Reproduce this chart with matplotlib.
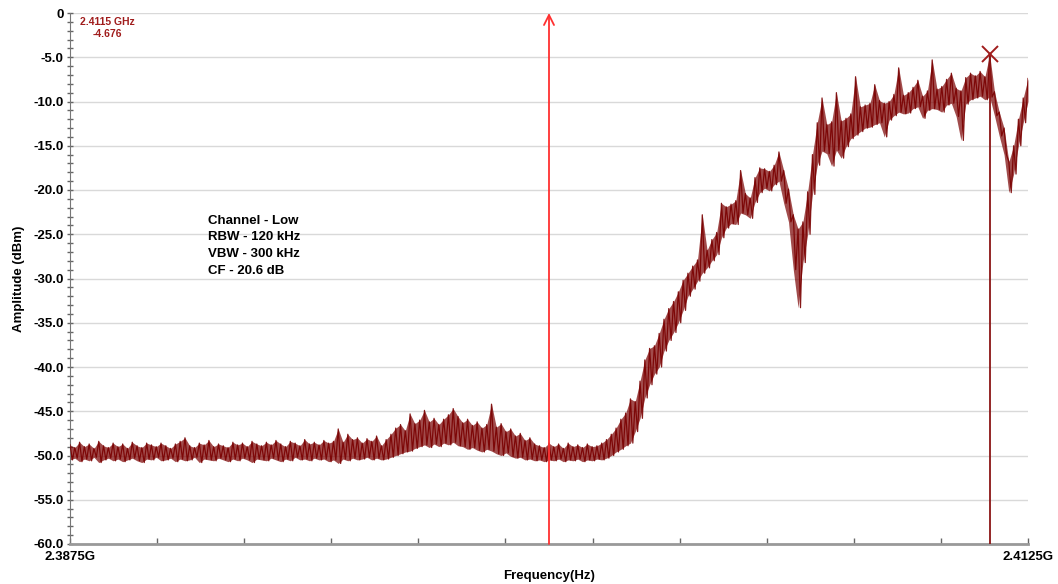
import numpy as np
import matplotlib
matplotlib.use("Agg")
import matplotlib.pyplot as plt
from matplotlib.ticker import MultipleLocator, FixedLocator

plt.rcParams["font.family"] = ["Liberation Sans", "DejaVu Sans"]
plt.rcParams["font.weight"] = "bold"

# barrido: 2.3875 - 2.4125 GHz, un bin cada 0.125 MHz
f_inicio = 2.3875
f_fin = 2.4125
paso = 0.000125

# envolvente superior (dBm) por bin
env_max = [
    -48.8, -49.1, -48.5, -49.0, -48.7, -49.2, -48.4, -48.9, -49.1, -48.6,
    -49.0, -48.7, -49.2, -48.5, -48.9, -49.1, -48.6, -48.8, -49.0, -48.6,
    -48.9, -49.2, -48.7, -48.4, -48.0, -48.9, -49.1, -48.6, -48.8, -48.3,
    -49.0, -48.7, -48.9, -49.1, -48.5, -48.8, -48.6, -49.0, -48.4, -48.7,
    -48.9, -48.5, -48.8, -48.3, -48.7, -49.0, -48.4, -48.6, -48.9, -48.2,
    -48.7, -48.5, -48.8, -48.3, -48.6, -48.4, -47.0, -48.5, -47.6, -48.2,
    -48.0, -48.6, -48.1, -48.4, -47.8, -48.9, -48.2, -47.6, -46.9, -46.5,
    -47.2, -45.3, -46.4, -46.0, -44.9, -46.2, -45.8, -46.5, -45.9, -45.4,
    -44.7, -45.6, -46.3, -45.9, -46.6, -46.2, -46.9, -46.5, -44.2, -46.8,
    -46.4, -47.3, -47.0, -47.8, -47.5, -48.3, -48.0, -48.7, -48.9, -49.1,
    -48.6, -49.0, -48.7, -49.2, -48.6, -49.0, -48.8, -49.1, -48.7, -49.0,
    -48.9, -48.6, -48.2, -47.6, -46.9, -45.9, -45.2, -43.6, -43.9, -41.6,
    -39.2, -37.9, -37.6, -36.2, -34.6, -33.4, -32.6, -31.5, -30.2, -29.4,
    -28.6, -27.9, -22.8, -26.8, -25.6, -24.8, -21.5, -21.9, -21.6, -21.2,
    -17.8, -20.4, -20.9, -18.6, -17.5, -17.6, -17.9, -17.2, -15.7, -17.8,
    -19.9, -22.8, -24.4, -23.6, -20.2, -16.0, -12.4, -9.6, -12.6, -12.3,
    -9.0, -12.2, -11.9, -11.4, -7.2, -10.6, -10.4, -10.2, -8.1, -9.9,
    -10.2, -10.0, -9.2, -6.2, -9.3, -9.0, -8.4, -7.6, -9.4, -8.8,
    -5.3, -8.6, -8.3, -7.5, -6.8, -8.5, -8.8, -7.3, -6.8, -7.1,
    -6.6, -7.2, -4.676, -8.9, -11.2, -13.0, -16.8, -15.0, -12.0, -9.6,
    -7.4,
]

# envolvente inferior (dBm) por bin
env_min = [
    -50.5, -50.3, -50.7, -50.4, -50.6, -50.2, -50.8, -50.5, -50.3, -50.6,
    -50.4, -50.7, -50.5, -50.3, -50.6, -50.8, -50.4, -50.5, -50.2, -50.6,
    -50.5, -50.3, -50.7, -50.4, -50.6, -50.5, -50.2, -50.8, -50.4, -50.5,
    -50.6, -50.3, -50.5, -50.7, -50.4, -50.6, -50.3, -50.5, -50.8, -50.4,
    -50.5, -50.6, -50.3, -50.5, -50.7, -50.4, -50.6, -50.2, -50.5, -50.4,
    -50.6, -50.3, -50.5, -50.4, -50.7, -50.5, -50.9, -50.4, -50.6, -50.3,
    -50.5, -50.4, -50.2, -50.5, -50.3, -50.5, -50.4, -50.2, -50.0, -49.8,
    -49.6, -49.5, -49.2, -49.0, -48.8, -49.1, -48.7, -49.0, -48.6, -48.8,
    -48.5, -48.9, -49.0, -49.3, -49.1, -49.4, -49.6, -49.3, -49.5, -49.8,
    -50.0, -49.7, -50.1, -50.3, -50.2, -50.5, -50.4, -50.6, -50.5, -50.7,
    -50.5, -50.6, -50.4, -50.7, -50.5, -50.6, -50.4, -50.7, -50.5, -50.6,
    -50.4, -50.5, -50.3, -50.0, -49.6, -49.3, -48.9, -48.6, -47.3, -45.8,
    -43.5, -42.0, -40.8, -40.0, -38.2, -37.0, -36.1, -35.0, -33.6, -32.0,
    -31.2, -30.3, -29.4, -28.8, -28.0, -27.3, -25.4, -24.3, -23.8, -23.9,
    -22.6, -22.8, -23.2, -21.4, -20.3, -19.8, -20.1, -19.4, -19.0, -21.5,
    -23.6, -29.0, -33.3, -28.2, -25.0, -20.5, -17.2, -15.6, -15.9, -17.3,
    -15.5, -16.4, -15.1, -14.2, -13.8, -13.4, -13.0, -12.9, -12.6, -12.4,
    -14.0, -12.1, -11.6, -11.2, -11.4, -11.3, -10.8, -10.6, -11.9, -11.0,
    -10.8, -10.9, -11.2, -10.4, -10.2, -11.7, -14.4, -10.3, -9.8, -9.6,
    -9.4, -9.8, -9.5, -11.6, -13.9, -16.0, -20.3, -18.2, -15.0, -12.4,
    -10.0,
]

# marcador de pico
pico_f = 2.4115
pico_db = -4.676
linea_limite = 2.4000

textos = ["Channel - Low", "RBW - 120 kHz", "VBW - 300 kHz", "CF - 20.6 dB"]

# traza tipo detector max/min: alterna entre envolvente superior e inferior
n = len(env_max)
f_bins = f_inicio + paso * np.arange(n)
xs, ys = [], []
for i in range(n):
    xs.append(f_bins[i])
    ys.append(env_max[i])
    if i < n - 1:
        xs.append(f_bins[i] + paso / 2)
        ys.append(env_min[i])

fig = plt.figure(figsize=(10.58, 5.84), dpi=100)
ax = fig.add_axes([70 / 1058, 40 / 584, 958 / 1058, 531 / 584])

# banda entre envolventes y traza encima
ax.fill_between(f_bins, env_min, env_max, color="#7a0000", alpha=0.7,
                linewidth=0, zorder=2)
ax.plot(xs, ys, color="#7a0000", linewidth=0.9, alpha=0.9, zorder=3)

# línea del límite de banda con flecha arriba
ax.annotate("", xy=(linea_limite, 0), xytext=(linea_limite, -60),
            arrowprops=dict(arrowstyle="->", color="#ff3030", lw=1.3,
                            mutation_scale=18, shrinkA=0, shrinkB=0),
            zorder=4)

# marcador
ax.plot([pico_f, pico_f], [-60, pico_db], color="#8b1515", linewidth=1.3, zorder=4)
ax.plot(pico_f, pico_db, marker="x", markersize=12, markeredgewidth=1.4,
        color="#a01c1c", zorder=5)

ax.text(0.039, 0.993, "2.4115 GHz", transform=ax.transAxes, color="#a01c1c",
        fontsize=7.5, fontweight="bold", ha="center", va="top")
ax.text(0.039, 0.969, f"{pico_db:.3f}", transform=ax.transAxes, color="#a01c1c",
        fontsize=7.5, fontweight="bold", ha="center", va="top")

for j, t in enumerate(textos):
    ax.text(0.144, 0.609 - j * 0.0315, t, transform=ax.transAxes,
            fontsize=9.5, fontweight="bold", ha="left", va="center")

ax.set_xlim(f_inicio, f_fin)
ax.set_ylim(-60, 0)

ax.xaxis.set_major_locator(FixedLocator(np.linspace(f_inicio, f_fin, 12)))
ax.set_xticklabels(["2.3875G"] + [""] * 10 + ["2.4125G"], fontsize=9.5,
                   fontweight="bold")
ax.yaxis.set_minor_locator(MultipleLocator(1))
ax.set_yticks(np.arange(-60, 1, 5))
ax.set_yticklabels(["0" if v == 0 else f"{v:.1f}" for v in np.arange(-60, 1, 5)],
                   fontsize=9.5, fontweight="bold")

ax.tick_params(axis="y", which="major", length=5, width=1, color="#666666",
               direction="inout", pad=2)
ax.tick_params(axis="y", which="minor", length=4, width=1, color="#666666",
               direction="inout")
ax.tick_params(axis="x", which="major", length=4, width=1, color="#666666",
               direction="in", pad=5)

ax.grid(True, axis="y", color="#d9d9d9", linewidth=1)
ax.set_axisbelow(True)
for s in ["top", "right"]:
    ax.spines[s].set_visible(False)
ax.spines["left"].set_color("#777777")
ax.spines["bottom"].set_color("#999999")
ax.spines["bottom"].set_linewidth(2)

ax.set_xlabel("Frequency(Hz)", fontsize=9.5, fontweight="bold", labelpad=5)
ax.set_ylabel("Amplitude (dBm)", fontsize=9.5, fontweight="bold", labelpad=6)

fig.savefig("out.png", dpi=100)
